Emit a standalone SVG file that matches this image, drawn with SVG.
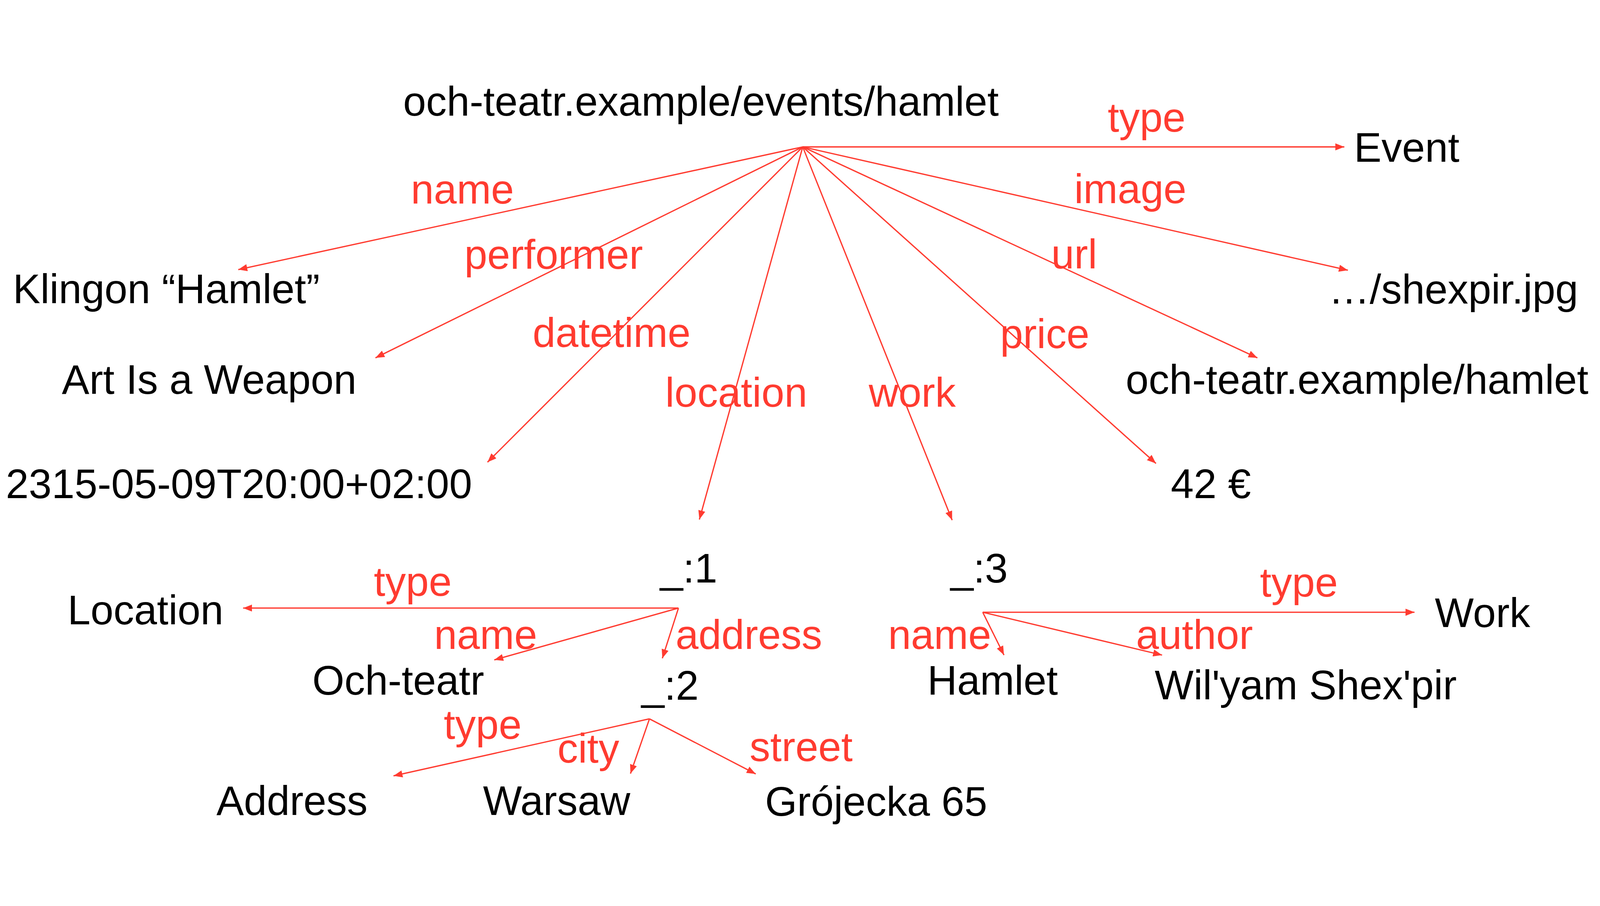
<svg xmlns="http://www.w3.org/2000/svg" width="4969" height="2319" viewBox="0 0 4969 2319" style="width:100%;height:100%">
<style>
text{font-family:"Liberation Sans",Arial,Helvetica,sans-serif;font-size:128px}
.n{fill:#000}
.l{fill:#FF3B30}
.e{stroke:#FF3B30;stroke-width:4;fill:none;marker-end:url(#ah)}
</style>
<defs>
<marker id="ah" markerUnits="userSpaceOnUse" markerWidth="30" markerHeight="24" refX="28" refY="11" orient="auto">
<path d="M0,0 L28,11 L0,22 Z" fill="#FF3B30"/>
</marker>
</defs>
<rect width="4969" height="2319" fill="#fff"/>
<g id="connectors">
<line class="e" x1="2493" y1="209" x2="4175" y2="209"/>
<line class="e" x1="2493" y1="209" x2="740" y2="590"/>
<line class="e" x1="2493" y1="209" x2="1166" y2="864"/>
<line class="e" x1="2493" y1="209" x2="1514" y2="1188"/>
<line class="e" x1="2493" y1="209" x2="2172" y2="1366"/>
<line class="e" x1="2493" y1="209" x2="2957" y2="1368"/>
<line class="e" x1="2493" y1="209" x2="3590" y2="1192"/>
<line class="e" x1="2493" y1="209" x2="3905" y2="864"/>
<line class="e" x1="2493" y1="209" x2="4186" y2="592"/>
<line class="e" x1="2107" y1="1641" x2="755" y2="1641"/>
<line class="e" x1="2107" y1="1641" x2="1535" y2="1802"/>
<line class="e" x1="2107" y1="1641" x2="2057" y2="1797"/>
<line class="e" x1="2017" y1="1985" x2="1222" y2="2162"/>
<line class="e" x1="2017" y1="1985" x2="1958" y2="2155"/>
<line class="e" x1="2017" y1="1985" x2="2347" y2="2156"/>
<line class="e" x1="3052" y1="1654" x2="4393" y2="1654"/>
<line class="e" x1="3052" y1="1654" x2="3118" y2="1787"/>
<line class="e" x1="3052" y1="1654" x2="3609" y2="1787"/>
</g>
<g id="edge-labels">
<text class="l" x="3440" y="162">type</text>
<text class="l" x="1276" y="385">name</text>
<text class="l" x="1442" y="587">performer</text>
<text class="l" x="1654" y="830">datetime</text>
<text class="l" x="2066" y="1016">location</text>
<text class="l" x="2698" y="1016">work</text>
<text class="l" x="3106" y="834">price</text>
<text class="l" x="3265" y="586">url</text>
<text class="l" x="3336" y="384">image</text>
<text class="l" x="1161" y="1603">type</text>
<text class="l" x="1348" y="1768">name</text>
<text class="l" x="2098" y="1768">address</text>
<text class="l" x="1378" y="2047">type</text>
<text class="l" x="1731" y="2121">city</text>
<text class="l" x="2328" y="2116">street</text>
<text class="l" x="3913" y="1605">type</text>
<text class="l" x="2758" y="1768">name</text>
<text class="l" x="3528" y="1768">author</text>
</g>
<g id="event"><text class="n" x="1252" y="112">och-teatr.example/events/hamlet</text></g>
<g id="Event"><text class="n" x="4205" y="255">Event</text></g>
<g id="klingon-hamlet"><text class="n" x="40" y="694">Klingon “Hamlet”</text></g>
<g id="art-is-a-weapon"><text class="n" x="192" y="976">Art Is a Weapon</text></g>
<g id="datetime"><text class="n" x="18" y="1300">2315-05-09T20:00+02:00</text></g>
<g id="b1"><text class="n" x="2050" y="1562">_:1</text></g>
<g id="b3"><text class="n" x="2952" y="1562">_:3</text></g>
<g id="price"><text class="n" x="3636" y="1300">42 €</text></g>
<g id="url"><text class="n" x="3496" y="976">och-teatr.example/hamlet</text></g>
<g id="image"><text class="n" x="4126" y="695">…/shexpir.jpg</text></g>
<g id="Location"><text class="n" x="210" y="1692">Location</text></g>
<g id="och-teatr"><text class="n" x="970" y="1910">Och-teatr</text></g>
<g id="b2"><text class="n" x="1992" y="1925">_:2</text></g>
<g id="Address"><text class="n" x="672" y="2284">Address</text></g>
<g id="warsaw"><text class="n" x="1500" y="2284">Warsaw</text></g>
<g id="street"><text class="n" x="2376" y="2286">Grójecka 65</text></g>
<g id="Work"><text class="n" x="4456" y="1700">Work</text></g>
<g id="hamlet"><text class="n" x="2880" y="1910">Hamlet</text></g>
<g id="author"><text class="n" x="3586" y="1924">Wil'yam Shex'pir</text></g>
</svg>
